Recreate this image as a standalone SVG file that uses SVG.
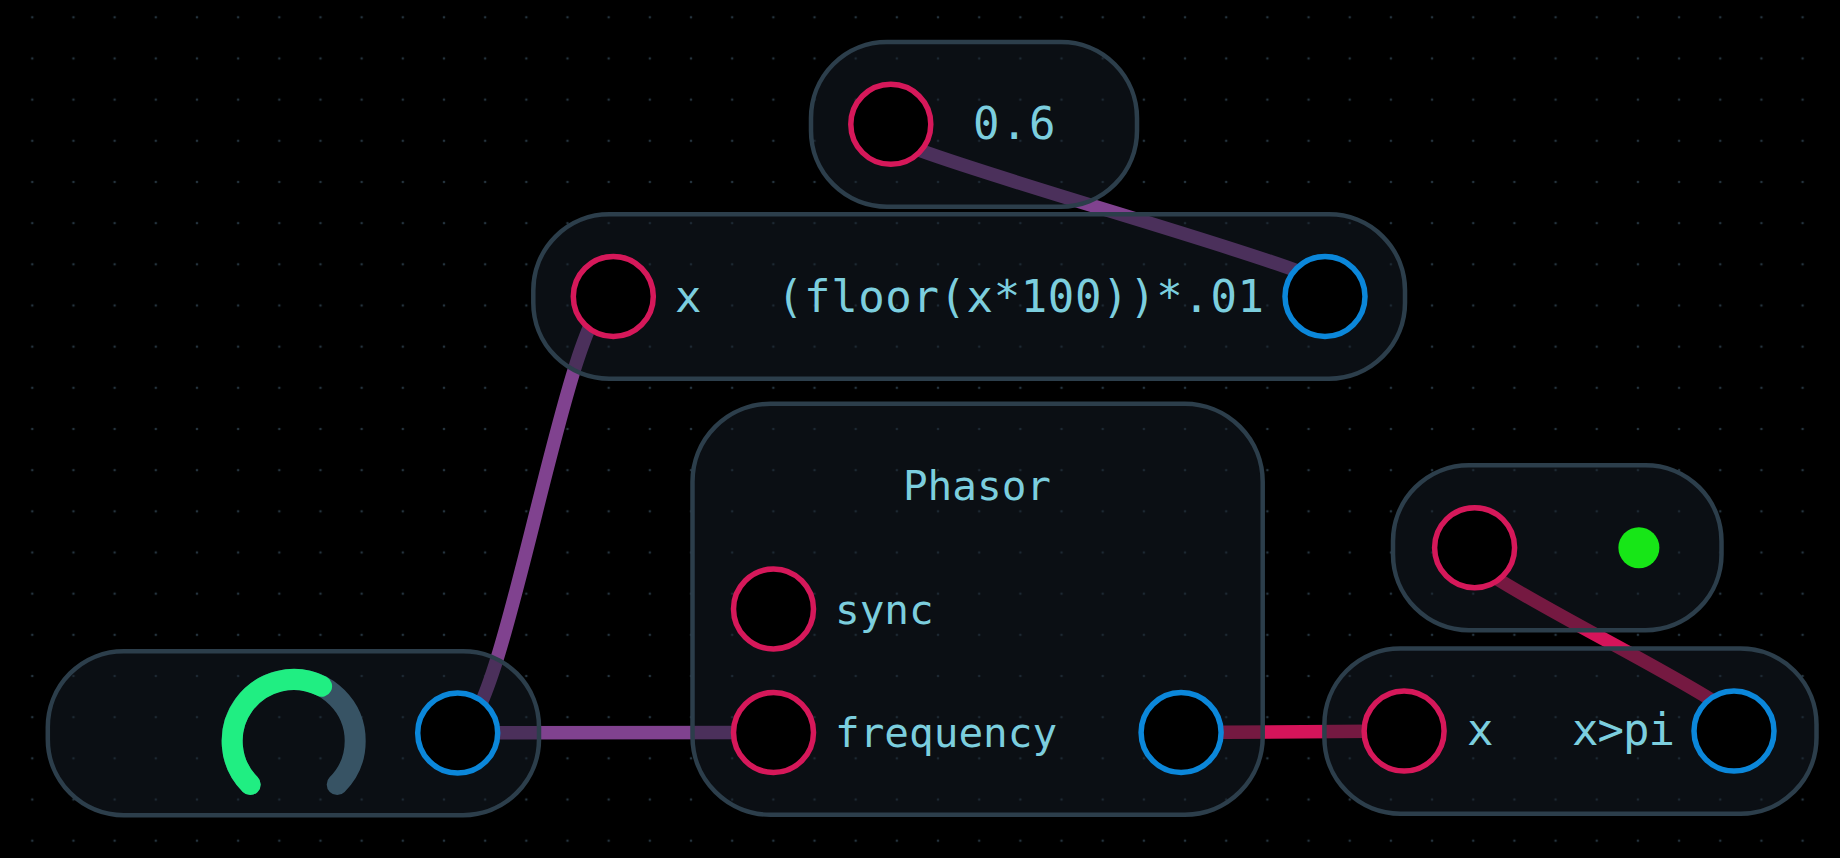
<svg xmlns="http://www.w3.org/2000/svg" width="1840" height="858" viewBox="0 0 1840 858">
<defs>
<pattern id="grid" x="11.7" y="-3.3" width="41.17" height="41.17" patternUnits="userSpaceOnUse">
<circle cx="20.585" cy="20.585" r="1.3" fill="#25343f"/>
</pattern>
<style>
.node{fill:rgba(22,30,40,0.5);stroke:#2c3e4b;stroke-width:4.5}
.in{fill:#000;stroke:#d6185a;stroke-width:5.5}
.out{fill:#000;stroke:#0b87da;stroke-width:5.5}
.t{font-family:"DejaVu Sans Mono","Liberation Mono",monospace;font-size:44px;fill:#7ccede}
.ts{font-size:41px}
.wire{fill:none;stroke-width:13.5}
.f{stroke:#80428f}
.b{stroke:#d5145a}
.track{fill:none;stroke:#375364;stroke-width:21;stroke-linecap:round}
.val{fill:none;stroke:#20ee82;stroke-width:21;stroke-linecap:round}
</style>
</defs>
<rect width="1840" height="858" fill="#000"/>
<rect width="1840" height="858" fill="url(#grid)"/>

<g id="connectors">
<path class="wire f" d="M 1325 296.5 C 1455 296.5 760.8 124.3 890.8 124.3"/>
<path class="wire f" d="M 457.7 733 C 504.4 733 566.6 296.5 613.3 296.5"/>
<path class="wire f" d="M 457.7 732.8 L 773.5 732.5"/>
<path class="wire b" d="M 1181.1 732.5 L 1404.1 731.1"/>
<path class="wire b" d="M 1734 731.1 C 1811.8 731.1 1396.8 547.7 1474.6 547.7"/>
</g>

<g id="node-const">
<rect class="node" x="811" y="42" width="326" height="164.7" rx="76"/>
<circle class="in" cx="890.8" cy="124.3" r="40"/>
<text class="t" x="973" y="138.5" font-size="46" letter-spacing="1.5">0.6</text>
</g>

<g id="node-expr">
<rect class="node" x="533.3" y="214.3" width="871.7" height="164.4" rx="76"/>
<circle class="in" cx="613.3" cy="296.5" r="40"/>
<circle class="out" cx="1325" cy="296.5" r="40"/>
<text class="t" x="675" y="311.5">x</text>
<text class="t" x="1264.6" y="311.5" text-anchor="end" letter-spacing="0.6">(floor(x*100))*.01</text>
</g>

<g id="node-knob">
<rect class="node" x="47.8" y="651.2" width="491.2" height="164" rx="76"/>
<path class="track" d="M 250.2 784.5 A 61.5 61.5 0 1 1 337.2 784.5"/>
<path class="val" d="M 250.2 784.5 A 61.5 61.5 0 0 1 321.6 686.2"/>
<circle class="out" cx="457.7" cy="733" r="40"/>
</g>

<g id="node-phasor">
<rect class="node" x="692.5" y="403.8" width="570.2" height="411" rx="78"/>
<text class="t ts" x="977" y="500" text-anchor="middle">Phasor</text>
<circle class="in" cx="773.5" cy="609" r="40"/>
<text class="t ts" x="835" y="624">sync</text>
<circle class="in" cx="773.5" cy="732.5" r="40"/>
<text class="t ts" x="835" y="746.5">frequency</text>
<circle class="out" cx="1181.1" cy="732.5" r="40"/>
</g>

<g id="node-toggle">
<rect class="node" x="1393" y="465.2" width="328.5" height="165" rx="76"/>
<circle class="in" cx="1474.6" cy="547.7" r="40"/>
<circle cx="1638.9" cy="547.7" r="20.5" fill="#17e617"/>
</g>

<g id="node-compare">
<rect class="node" x="1324.4" y="648.5" width="492.1" height="165.2" rx="76"/>
<circle class="in" cx="1404.1" cy="731.1" r="40"/>
<circle class="out" cx="1734" cy="731.1" r="40"/>
<text class="t" x="1467" y="745">x</text>
<text class="t" x="1572" y="745" letter-spacing="-1">x&gt;pi</text>
</g>
</svg>
